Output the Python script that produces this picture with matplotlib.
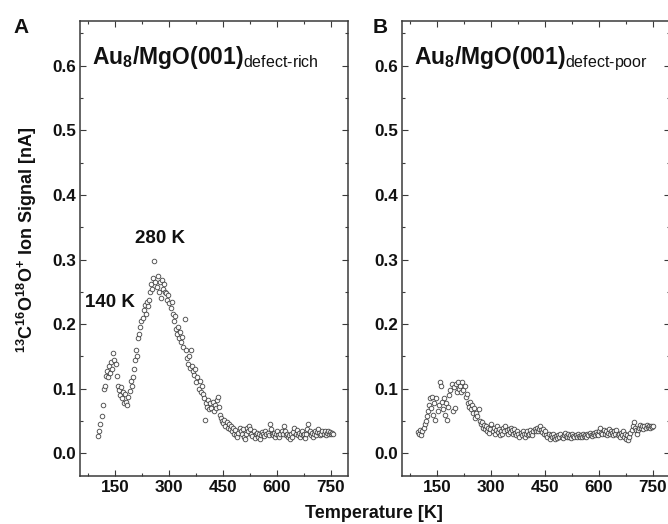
import numpy as np
import matplotlib
matplotlib.use("Agg")
import matplotlib.pyplot as plt
from matplotlib.ticker import MultipleLocator

plt.rcParams['font.family'] = ['Liberation Sans', 'DejaVu Sans']
plt.rcParams['mathtext.fontset'] = 'custom'
plt.rcParams['mathtext.rm'] = 'Liberation Sans'
plt.rcParams['mathtext.bf'] = 'Liberation Sans:bold'
plt.rcParams['mathtext.it'] = 'Liberation Sans:italic'

# ---------------- data ----------------
# Panel A: defect-rich, temperatures 103..757 K in 3 K steps
temp_rich = np.arange(103, 758, 3)
signal_rich = [
    0.027, 0.035, 0.045, 0.058, 0.075, 0.100, 0.105, 0.120, 0.128, 0.118,
    0.135, 0.125, 0.142, 0.130, 0.155, 0.145, 0.138, 0.120, 0.105, 0.098,
    0.090, 0.102, 0.085, 0.095, 0.078, 0.092, 0.080, 0.075, 0.088, 0.097,
    0.112, 0.105, 0.118, 0.130, 0.145, 0.160, 0.150, 0.178, 0.185, 0.195,
    0.205, 0.210, 0.222, 0.230, 0.215, 0.235, 0.228, 0.238, 0.250, 0.262,
    0.255, 0.272, 0.298, 0.265, 0.258, 0.275, 0.250, 0.265, 0.240, 0.268,
    0.255, 0.262, 0.250, 0.248, 0.238, 0.245, 0.232, 0.225, 0.235, 0.215,
    0.205, 0.212, 0.192, 0.185, 0.195, 0.178, 0.188, 0.172, 0.180, 0.165,
    0.208, 0.160, 0.148, 0.138, 0.150, 0.132, 0.160, 0.135, 0.128, 0.122,
    0.130, 0.110, 0.118, 0.100, 0.112, 0.095, 0.105, 0.092, 0.085, 0.052,
    0.078, 0.072, 0.082, 0.068, 0.078, 0.070, 0.080, 0.065, 0.075, 0.070,
    0.082, 0.088, 0.072, 0.060, 0.055, 0.050, 0.047, 0.052, 0.042, 0.048,
    0.040, 0.045, 0.038, 0.042, 0.035, 0.040, 0.030, 0.036, 0.028, 0.025,
    0.032, 0.040, 0.035, 0.030, 0.038, 0.025, 0.022, 0.030, 0.040, 0.035,
    0.042, 0.038, 0.030, 0.027, 0.035, 0.024, 0.030, 0.032, 0.025, 0.030,
    0.022, 0.028, 0.033, 0.030, 0.027, 0.035, 0.030, 0.032, 0.028, 0.045,
    0.038, 0.030, 0.028, 0.032, 0.025, 0.030, 0.034, 0.028, 0.026, 0.030,
    0.035, 0.030, 0.042, 0.035, 0.028, 0.030, 0.025, 0.028, 0.022, 0.030,
    0.026, 0.033, 0.040, 0.030, 0.036, 0.028, 0.032, 0.026, 0.030, 0.035,
    0.028, 0.030, 0.024, 0.030, 0.038, 0.045, 0.035, 0.028, 0.032, 0.026,
    0.030, 0.035, 0.028, 0.033, 0.038, 0.032, 0.028, 0.030, 0.035, 0.030,
    0.034, 0.028, 0.032, 0.035, 0.030, 0.033, 0.030, 0.032, 0.030,
]

# Panel B: defect-poor, temperatures 97..751 K in 3 K steps
temp_poor = np.arange(97, 752, 3)
signal_poor = [
    0.033, 0.030, 0.036, 0.028, 0.035, 0.040, 0.045, 0.050, 0.058, 0.065,
    0.075, 0.085, 0.070, 0.088, 0.060, 0.078, 0.052, 0.085, 0.065, 0.075,
    0.110, 0.105, 0.080, 0.068, 0.085, 0.060, 0.078, 0.052, 0.072, 0.090,
    0.098, 0.108, 0.065, 0.102, 0.070, 0.108, 0.095, 0.110, 0.100, 0.105,
    0.095, 0.110, 0.098, 0.105, 0.088, 0.092, 0.078, 0.072, 0.080, 0.068,
    0.075, 0.062, 0.070, 0.055, 0.062, 0.058, 0.068, 0.050, 0.045, 0.048,
    0.040, 0.044, 0.038, 0.042, 0.035, 0.040, 0.032, 0.038, 0.045, 0.035,
    0.040, 0.030, 0.036, 0.042, 0.033, 0.038, 0.028, 0.035, 0.030, 0.040,
    0.035, 0.042, 0.036, 0.030, 0.038, 0.033, 0.040, 0.036, 0.030, 0.038,
    0.032, 0.028, 0.034, 0.030, 0.026, 0.032, 0.028, 0.034, 0.030, 0.026,
    0.030, 0.034, 0.028, 0.030, 0.036, 0.032, 0.028, 0.035, 0.038, 0.035,
    0.040, 0.034, 0.038, 0.042, 0.036, 0.033, 0.037, 0.030, 0.034, 0.028,
    0.025, 0.030, 0.022, 0.028, 0.025, 0.030, 0.026, 0.022, 0.027, 0.024,
    0.028, 0.025, 0.030, 0.026, 0.024, 0.028, 0.032, 0.027, 0.025, 0.030,
    0.026, 0.028, 0.024, 0.030, 0.027, 0.025, 0.028, 0.026, 0.030, 0.027,
    0.025, 0.028, 0.026, 0.030, 0.027, 0.029, 0.026, 0.030, 0.028, 0.032,
    0.029, 0.027, 0.030, 0.032, 0.028, 0.033, 0.030, 0.028, 0.035, 0.040,
    0.032, 0.030, 0.036, 0.030, 0.034, 0.028, 0.032, 0.038, 0.030, 0.035,
    0.032, 0.028, 0.034, 0.030, 0.036, 0.028, 0.030, 0.026, 0.032, 0.028,
    0.034, 0.026, 0.030, 0.022, 0.028, 0.020, 0.026, 0.032, 0.036, 0.042,
    0.048, 0.040, 0.036, 0.030, 0.036, 0.040, 0.044, 0.040, 0.042, 0.038,
    0.043, 0.040, 0.044, 0.041, 0.043, 0.040, 0.042, 0.041, 0.042,
]

x_ticks = [150, 300, 450, 600, 750]
y_ticks = [0.0, 0.1, 0.2, 0.3, 0.4, 0.5, 0.6]
y_tick_labels = ["0.0", "0.1", "0.2", "0.3", "0.4", "0.5", "0.6"]

panel_letters = ["A", "B"]
titles = [r"$\mathbf{Au}_{\mathbf{8}}\mathbf{/MgO(001)}_{\text{defect-rich}}$",
          r"$\mathbf{Au}_{\mathbf{8}}\mathbf{/MgO(001)}_{\text{defect-poor}}$"]

# ---------------- figure ----------------
W, H = 668, 524
fig = plt.figure(figsize=(W / 100, H / 100), dpi=100)

def frac_axes(l, t, r, b):
    return fig.add_axes([l / W, 1 - b / H, (r - l) / W, (b - t) / H])

axA = frac_axes(80, 20.5, 348, 476)
axB = frac_axes(402, 20.5, 670, 476)

edge = "#3a3a3a"
for ax, T, S, title in [(axA, temp_rich, signal_rich, titles[0]),
                        (axB, temp_poor, signal_poor, titles[1])]:
    ax.plot(T, S, linestyle="none", marker="o", markersize=3.3,
            markerfacecolor="white", markeredgecolor="#3c3c3c",
            markeredgewidth=0.65, alpha=0.9)
    ax.set_xlim(52, 798)
    ax.set_ylim(-0.035, 0.67)
    ax.set_xticks(x_ticks)
    ax.set_xticklabels([str(v) for v in x_ticks])
    ax.set_yticks(y_ticks)
    ax.set_yticklabels(y_tick_labels)
    ax.xaxis.set_minor_locator(MultipleLocator(75))
    ax.yaxis.set_minor_locator(MultipleLocator(0.05))
    ax.tick_params(which="both", direction="in", top=True, right=True,
                   color=edge, width=0.8)
    ax.tick_params(which="major", length=4, pad=3, labelsize=12.3,
                   labelcolor="#111111")
    ax.tick_params(which="minor", length=2)
    for lab in ax.get_xticklabels() + ax.get_yticklabels():
        lab.set_fontweight("bold")
    for sp in ax.spines.values():
        sp.set_color(edge)
        sp.set_linewidth(1.1)
    ax.text(0.045, 0.905, title, transform=ax.transAxes, fontsize=16.5,
            color="#111111", ha="left", va="baseline")

fig.text(13 / W, 1 - 33 / H, "A", fontsize=15, fontweight="bold", color="#111111")
fig.text(373 / W, 1 - 33 / H, "B", fontsize=15, fontweight="bold", color="#111111")

axA.text(0.205, 0.522, "280 K", transform=axA.transAxes, fontsize=13.5,
         fontweight="bold", color="#111111", ha="left", va="center")
axA.text(0.019, 0.38, "140 K", transform=axA.transAxes, fontsize=13.5,
         fontweight="bold", color="#111111", ha="left", va="center")

fig.text(27 / W, 1 - 240 / H,
         r"$\mathbf{^{13}C^{16}O^{18}O^{+}}$" + " Ion Signal [nA]",
         rotation=90, fontsize=13, fontweight="bold", color="#111111",
         ha="center", va="center")
fig.text(374 / W, 1 - 513 / H, "Temperature [K]", fontsize=13,
         fontweight="bold", color="#111111", ha="center", va="center")

fig.savefig("out.png", dpi=100)
